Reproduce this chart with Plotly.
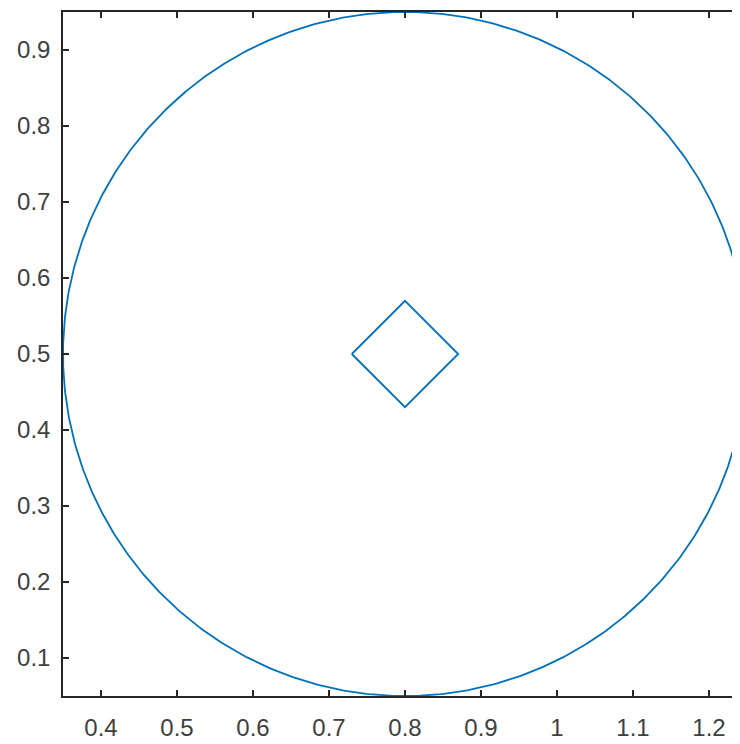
import numpy as np
import plotly.graph_objects as go

# Data
circle_center = (0.8, 0.5)
circle_radius = 0.45
diamond_x = [0.73, 0.80, 0.87, 0.80, 0.73]
diamond_y = [0.50, 0.57, 0.50, 0.43, 0.50]
x_ticks = [0.4, 0.5, 0.6, 0.7, 0.8, 0.9, 1.0, 1.1, 1.2]
x_tick_labels = ["0.4", "0.5", "0.6", "0.7", "0.8", "0.9", "1", "1.1", "1.2"]
y_ticks = [0.1, 0.2, 0.3, 0.4, 0.5, 0.6, 0.7, 0.8, 0.9]
y_tick_labels = ["0.1", "0.2", "0.3", "0.4", "0.5", "0.6", "0.7", "0.8", "0.9"]

theta = np.linspace(0, 2 * np.pi, 721)
cx = circle_center[0] + circle_radius * np.cos(theta)
cy = circle_center[1] + circle_radius * np.sin(theta)

color = "#0072BD"
fig = go.Figure()
fig.add_trace(go.Scatter(x=cx, y=cy, mode="lines", line=dict(color=color, width=1.8),
                         hoverinfo="skip", showlegend=False))
fig.add_trace(go.Scatter(x=diamond_x, y=diamond_y, mode="lines", line=dict(color=color, width=1.8),
                         showlegend=False))

axis_common = dict(
    showgrid=False, zeroline=False, showline=True, linecolor="#262626", linewidth=1.5,
    ticks="inside", ticklen=6, tickwidth=1.5, tickcolor="#262626",
    tickfont=dict(family="Liberation Sans, Arial, sans-serif", size=24, color="#404040"),
)
fig.update_xaxes(range=[0.35, 0.35 + 677 / 760], tickvals=x_ticks, ticktext=x_tick_labels,
                 mirror="allticks", ticklabelstandoff=9, **axis_common)
fig.update_yaxes(range=[0.05, 0.95], tickvals=y_ticks, ticktext=y_tick_labels,
                 mirror=False, ticklabelstandoff=6, **axis_common)

fig.update_layout(
    width=732, height=736,
    margin=dict(l=55, r=0, t=4, b=48),
    plot_bgcolor="white", paper_bgcolor="white",
)
fig.write_html("out.html")
